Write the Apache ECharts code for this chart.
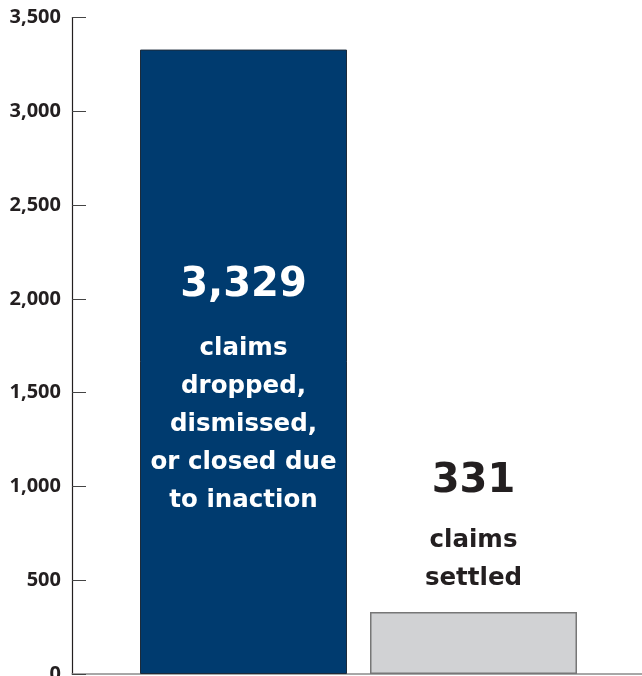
<!DOCTYPE html>
<html>
<head>
<meta charset="utf-8">
<script src="https://cdn.jsdelivr.net/npm/echarts@6/dist/echarts.min.js"></script>
<style>
html,body{margin:0;padding:0;background:#fff;}
#c{width:642px;height:676px;}
</style>
</head>
<body>
<div id="c"></div>
<script>
const categories = ['dropped', 'settled'];
const values = [3329, 331];
const valueLabels = ['3,329', '331'];
const descLabels = ['claims\ndropped,\ndismissed,\nor closed due\nto inaction', 'claims\nsettled'];
const yTicks = [0, 500, 1000, 1500, 2000, 2500, 3000, 3500];

const chart = echarts.init(document.getElementById('c'));
const barFont = 'DejaVu Sans';
const option = {
  animation: false,
  grid: [
    {left: 128.5, width: 460, top: 17.5, bottom: 2, outerBoundsMode: 'none', containLabel: false},
    {left: 72, right: 0, top: 17.5, bottom: 2, outerBoundsMode: 'none', containLabel: false}
  ],
  xAxis: [
    {gridIndex: 0, type: 'category', data: categories, show: false},
    {gridIndex: 1, type: 'category', data: [''], axisLine: {show: true, lineStyle: {color: '#8a8a8a', width: 1.5}},
      axisTick: {show: false}, axisLabel: {show: false}}
  ],
  yAxis: [
    {gridIndex: 0, type: 'value', min: yTicks[0], max: yTicks[yTicks.length - 1], interval: 500,
      offset: 56.5,
      axisLine: {show: true, lineStyle: {color: '#231f20', width: 1.2}},
      axisTick: {show: true, inside: true, length: 14, lineStyle: {color: '#444', width: 1}},
      splitLine: {show: false},
      axisLabel: {margin: 11, fontFamily: 'Noto Sans', fontWeight: 'bold', fontSize: 20, color: '#231f20',
        formatter: v => v.toLocaleString('en-US')}},
    {gridIndex: 1, type: 'value', min: 0, max: 3500, show: false}
  ],
  series: [
    {type: 'bar', xAxisIndex: 1, yAxisIndex: 1, data: [], z: 3},
    {
      type: 'bar', xAxisIndex: 0, yAxisIndex: 0, barWidth: 207, z: 2,
      data: [
        {value: values[0], itemStyle: {color: '#003b6f', borderColor: '#1d2b3a', borderWidth: 1},
          label: {show: true, position: 'inside', offset: [0, 19], color: '#ffffff',
            formatter: '{n|' + valueLabels[0] + '}\n{t|' + descLabels[0].split('\n').join('}\n{t|') + '}',
            rich: {
              n: {fontFamily: barFont, fontWeight: 'bold', fontSize: 40, lineHeight: 88, color: '#fff'},
              t: {fontFamily: barFont, fontWeight: 'bold', fontSize: 24.5, lineHeight: 38, color: '#fff'}
            }}},
        {value: values[1], itemStyle: {color: '#d1d2d4', borderColor: '#777777', borderWidth: 1.5},
          label: {show: true, position: 'top', distance: 14, color: '#231f20',
            formatter: '{n|' + valueLabels[1] + '}\n{t|' + descLabels[1].split('\n').join('}\n{t|') + '}',
            rich: {
              n: {fontFamily: barFont, fontWeight: 'bold', fontSize: 40, lineHeight: 80, color: '#231f20'},
              t: {fontFamily: barFont, fontWeight: 'bold', fontSize: 24.5, lineHeight: 38, color: '#231f20'}
            }}}
      ]
    }
  ]
};
chart.setOption(option);
</script>
</body>
</html>
